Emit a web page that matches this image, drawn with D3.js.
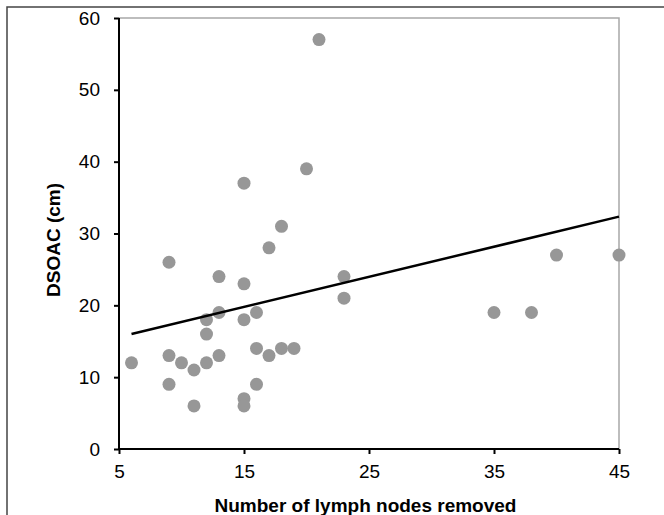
<!DOCTYPE html>
<html>
<head>
<meta charset="utf-8">
<script src="https://cdn.jsdelivr.net/npm/d3@7"></script>
<style>
  body { margin: 0; background: #fff; }
  text { font-family: "Liberation Sans", Arial, sans-serif; }
</style>
</head>
<body>
<div id="vis"></div>
<script>
// lymph nodes removed vs DSOAC (cm)
var nodes = [6, 9, 9, 9, 10, 11, 11, 12, 12, 12, 13, 13, 13, 15, 15, 15, 15, 15,
             16, 16, 16, 17, 17, 18, 18, 19, 20, 21, 23, 23, 35, 38, 40, 45];
var dsoac = [12, 13, 9, 26, 12, 11, 6, 18, 16, 12, 24, 19, 13, 37, 23, 18, 7, 6,
             19, 14, 9, 28, 13, 31, 14, 14, 39, 57, 24, 21, 19, 19, 27, 27];
var trendX = [6, 45];
var trendY = [16, 32.35];
var xTicks = [5, 15, 25, 35, 45];
var yTicks = [0, 10, 20, 30, 40, 50, 60];

var w = 664, h = 515;
var pLeft = 119, pRight = 619, pTop = 18, pBottom = 449;

var svg = d3.select("#vis").append("svg")
    .attr("width", w)
    .attr("height", h);

// outer frame (only top + left show)
svg.append("rect")
    .attr("x", 7).attr("y", 7)
    .attr("width", w + 10).attr("height", h + 10)
    .attr("fill", "none")
    .attr("stroke", "#444")
    .attr("stroke-width", 1.5);

var x = d3.scaleLinear().domain([5, 45]).range([pLeft, pRight]);
var y = d3.scaleLinear().domain([0, 60]).range([pBottom, pTop]);

// plot area border, light gray top + right
svg.append("path")
    .attr("d", "M" + pLeft + "," + pTop + "H" + pRight + "V" + pBottom)
    .attr("fill", "none")
    .attr("stroke", "#a8a8a8")
    .attr("stroke-width", 1.5);

var pts = nodes.map(function(d, i) { return {x: d, y: dsoac[i]}; });

svg.append("g").selectAll("circle")
    .data(pts)
    .enter().append("circle")
    .attr("cx", function(d) { return x(d.x); })
    .attr("cy", function(d) { return y(d.y); })
    .attr("r", 6.5)
    .attr("fill", "#979797");

svg.append("line")
    .attr("x1", x(trendX[0])).attr("y1", y(trendY[0]))
    .attr("x2", x(trendX[1])).attr("y2", y(trendY[1]))
    .attr("stroke", "#000")
    .attr("stroke-width", 2.5);

var xAxis = svg.append("g")
    .attr("transform", "translate(0," + pBottom + ")")
    .call(d3.axisBottom(x).tickValues(xTicks).tickSize(5).tickPadding(11).tickFormat(d3.format("d")));

var yAxis = svg.append("g")
    .attr("transform", "translate(" + pLeft + ",0)")
    .call(d3.axisLeft(y).tickValues(yTicks).tickSize(5).tickPadding(14).tickFormat(d3.format("d")));

[xAxis, yAxis].forEach(function(a) {
    a.select(".domain").attr("stroke", "#000").attr("stroke-width", 2)
        .attr("d", a === xAxis ? "M" + pLeft + ",0H" + pRight : "M0," + pTop + "V" + pBottom);
    a.selectAll(".tick line").attr("stroke", "#000").attr("stroke-width", 2);
    a.selectAll(".tick text")
        .style("font-family", "'Liberation Sans', Arial, sans-serif")
        .style("font-size", "19px")
        .attr("fill", "#000");
});

svg.append("text")
    .attr("transform", "translate(60,240)rotate(-90)")
    .attr("text-anchor", "middle")
    .style("font-size", "19px")
    .style("font-weight", "bold")
    .text("DSOAC (cm)");

svg.append("text")
    .attr("x", 365.5)
    .attr("y", 512)
    .attr("text-anchor", "middle")
    .style("font-size", "19px")
    .style("font-weight", "bold")
    .text("Number of lymph nodes removed");
</script>
</body>
</html>
